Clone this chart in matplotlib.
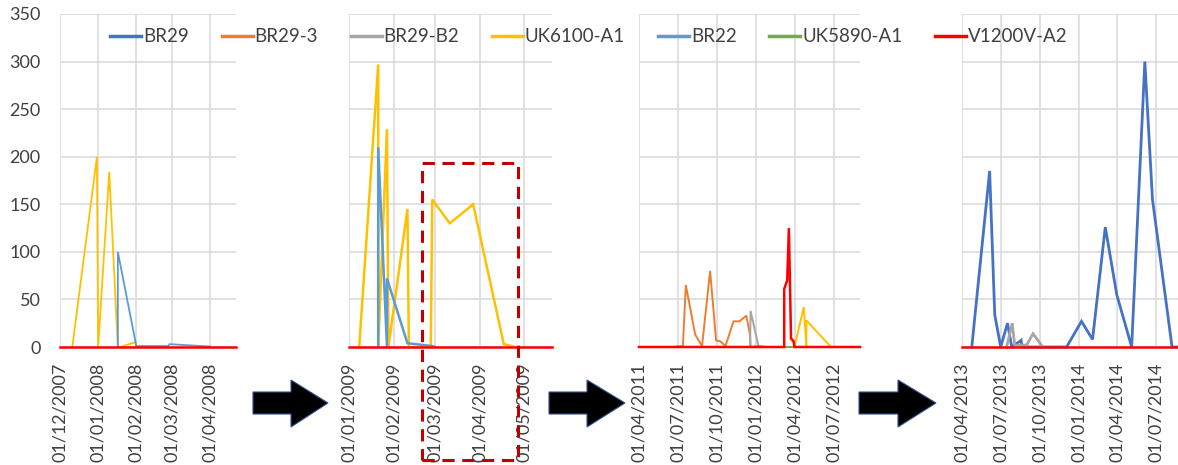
import numpy as np
import pandas as pd
import matplotlib
matplotlib.use('Agg')
import matplotlib.pyplot as plt
import matplotlib.dates as mdates
from matplotlib.patches import Polygon, Rectangle
from matplotlib.lines import Line2D

plt.rcParams['font.family'] = ['Lato', 'DejaVu Sans']

# series (Excel default palette)
series_names = ['BR29', 'BR29-3', 'BR29-B2', 'UK6100-A1', 'BR22', 'UK5890-A1', 'V1200V-A2']
series_colors = ['#4472C4', '#ED7D31', '#A5A5A5', '#FFC000', '#5B9BD5', '#70AD47', '#FF0000']

# panel 1 : Dec 2007 - Apr 2008
p1_uk6100_dates = ['2007-12-11', '2007-12-31', '2008-01-01', '2008-01-10', '2008-01-17',
                   '2008-01-19', '2008-01-31', '2008-02-01']
p1_uk6100_vals = [0, 200, 0, 184, 0, 0, 5, 0]
p1_br22_dates = ['2008-01-17', '2008-01-17', '2008-02-01', '2008-02-27', '2008-02-28', '2008-04-01']
p1_br22_vals = [0, 100, 1, 1, 3, 0.5]
p1_v1200_dates = ['2007-12-01', '2008-04-22']
p1_v1200_vals = [0, 0]

# panel 2 : Jan 2009 - May 2009
p2_uk6100_dates = ['2009-01-08', '2009-01-21', '2009-01-21', '2009-01-27', '2009-01-28',
                   '2009-02-10', '2009-02-11', '2009-02-26', '2009-02-27', '2009-03-11',
                   '2009-03-27', '2009-04-17', '2009-04-25']
p2_uk6100_vals = [0, 297, 0, 229, 0, 145, 0, 0, 155, 130, 150, 3, 0]
p2_br22_dates = ['2009-01-21', '2009-01-21', '2009-01-27', '2009-01-27', '2009-02-10',
                 '2009-02-27', '2009-03-01']
p2_br22_vals = [0, 210, 0, 72, 4, 1, 0]
p2_v1200_dates = ['2009-01-01', '2009-05-20']
p2_v1200_vals = [0, 0]

# panel 3 : Apr 2011 - Aug 2012
p3_br29_3_dates = ['2011-06-17', '2011-07-13', '2011-07-20', '2011-08-11', '2011-08-27',
                   '2011-09-15', '2011-09-29', '2011-10-09', '2011-10-21', '2011-11-09',
                   '2011-11-23', '2011-12-09', '2011-12-18', '2011-12-19', '2012-01-10',
                   '2012-01-22']
p3_br29_3_vals = [0, 1, 65, 13, 1, 80, 7, 6, 1, 27, 27, 33, 12, 0, 1, 0]
p3_br29_b2_dates = ['2011-12-18', '2011-12-19', '2012-01-07']
p3_br29_b2_vals = [0, 38, 0]
p3_uk6100_dates = ['2012-03-31', '2012-04-22', '2012-04-28', '2012-04-28', '2012-06-25']
p3_uk6100_vals = [0, 42, 0, 28, 0]
p3_uk5890_dates = ['2012-03-07', '2012-03-26']
p3_uk5890_vals = [0, 0]
p3_v1200_dates = ['2011-04-01', '2012-03-07', '2012-03-07', '2012-03-14', '2012-03-18',
                  '2012-03-23', '2012-03-29', '2012-03-31', '2012-09-01']
p3_v1200_vals = [0, 0, 61, 70, 125, 9, 6, 0, 0]

# panel 4 : Apr 2013 - Aug 2014
p4_br29_dates = ['2013-04-24', '2013-06-05', '2013-06-17', '2013-07-01', '2013-07-17',
                 '2013-07-27', '2013-08-18', '2013-08-20', '2013-12-03', '2014-01-07',
                 '2014-02-02', '2014-03-04', '2014-03-31', '2014-05-05', '2014-06-05',
                 '2014-06-23', '2014-08-08', '2014-08-22']
p4_br29_vals = [0, 185, 34, 0, 25, 0, 7, 0, 0, 27, 8, 126, 55, 0, 300, 155, 0, 0]
p4_br29_b2_dates = ['2013-07-15', '2013-07-28', '2013-08-03', '2013-08-15', '2013-08-31',
                    '2013-09-15', '2013-10-08']
p4_br29_b2_vals = [0, 25, 2, 2, 2, 14, 0]
p4_v1200_dates = ['2013-04-01', '2014-08-22']
p4_v1200_vals = [0, 0]

panels = [
    dict(rect=[60, 176], xlim=('2007-12-01', '2008-04-22'), months=1, ylab=True, lw=1.3,
         series={'UK6100-A1': (p1_uk6100_dates, p1_uk6100_vals),
                 'BR22': (p1_br22_dates, p1_br22_vals),
                 'V1200V-A2': (p1_v1200_dates, p1_v1200_vals)}),
    dict(rect=[349, 203], xlim=('2009-01-01', '2009-05-20'), months=1, ylab=False, lw=1.8,
         series={'UK6100-A1': (p2_uk6100_dates, p2_uk6100_vals),
                 'BR22': (p2_br22_dates, p2_br22_vals),
                 'V1200V-A2': (p2_v1200_dates, p2_v1200_vals)}),
    dict(rect=[639, 221], xlim=('2011-04-01', '2012-09-01'), months=3, ylab=False, lw=1.4,
         series={'BR29-3': (p3_br29_3_dates, p3_br29_3_vals),
                 'BR29-B2': (p3_br29_b2_dates, p3_br29_b2_vals),
                 'UK6100-A1': (p3_uk6100_dates, p3_uk6100_vals),
                 'UK5890-A1': (p3_uk5890_dates, p3_uk5890_vals),
                 'V1200V-A2': (p3_v1200_dates, p3_v1200_vals)}),
    dict(rect=[962, 216], xlim=('2013-04-01', '2014-08-22'), months=3, ylab=False, lw=2.0,
         series={'BR29': (p4_br29_dates, p4_br29_vals),
                 'BR29-B2': (p4_br29_b2_dates, p4_br29_b2_vals),
                 'V1200V-A2': (p4_v1200_dates, p4_v1200_vals)}),
]

W, H = 1178, 465
fig = plt.figure(figsize=(W / 100, H / 100), dpi=100)
txt_col = '#404040'
grid_col = '#D9D9D9'

def fx(px):
    return px / W

def fy(py):
    return 1 - py / H

for p in panels:
    x0, w = p['rect']
    ax = fig.add_axes([fx(x0), fy(347), w / W, (347 - 14) / H])
    for name, color in zip(series_names, series_colors):
        if name not in p['series']:
            continue
        d, v = p['series'][name]
        lw = p['lw']
        if name == 'V1200V-A2':
            lw = 1.8
        ax.plot(pd.to_datetime(d), v, color=color, lw=lw, solid_joinstyle='miter',
                zorder=3, clip_on=False)
    ax.set_xlim(pd.to_datetime(p['xlim'][0]), pd.to_datetime(p['xlim'][1]))
    ax.set_ylim(0, 350)
    ax.set_yticks(np.arange(0, 351, 50))
    if p['months'] == 1:
        ax.xaxis.set_major_locator(mdates.MonthLocator(bymonthday=1))
    else:
        ax.xaxis.set_major_locator(mdates.MonthLocator(bymonth=(1, 4, 7, 10)))
    ax.xaxis.set_major_formatter(mdates.DateFormatter('%d/%m/%Y'))
    ax.tick_params(axis='x', length=0, pad=11, labelrotation=90, labelsize=13, labelcolor=txt_col)
    ax.tick_params(axis='y', length=0, pad=14, labelsize=13, labelcolor=txt_col,
                   labelleft=p['ylab'])
    ax.grid(True, color=grid_col, lw=1.1)
    ax.set_axisbelow(True)
    for s in ax.spines.values():
        s.set_visible(False)
    ax.patch.set_alpha(0)

# legend across the top
handles = [Line2D([], [], color=c, lw=2.5) for c in series_colors]
fig.legend(handles, series_names, loc='center', bbox_to_anchor=(fx(589), fy(37)), ncol=7,
           frameon=False, fontsize=13.5, handlelength=1.65, handletextpad=0.1,
           columnspacing=1.75, labelcolor=txt_col)

# arrows between panels
for xa, xh, xt in [(253, 291, 328), (549, 587, 625), (859, 898, 936)]:
    pts = [(xa, 392), (xh, 392), (xh, 380), (xt, 403), (xh, 427), (xh, 414), (xa, 414)]
    fig.patches.append(Polygon([(fx(a), fy(b)) for a, b in pts], closed=True,
                               transform=fig.transFigure, facecolor='black',
                               edgecolor='#2F528F', lw=0.8))

# dashed highlight box in panel 2
fig.patches.append(Rectangle((fx(422), fy(460)), (518 - 422) / W, (460 - 163) / H,
                             transform=fig.transFigure, fill=False, edgecolor='#C00000',
                             lw=2.2, linestyle=(0, (4, 2.5)), zorder=10))

fig.savefig('out.png', dpi=100)
